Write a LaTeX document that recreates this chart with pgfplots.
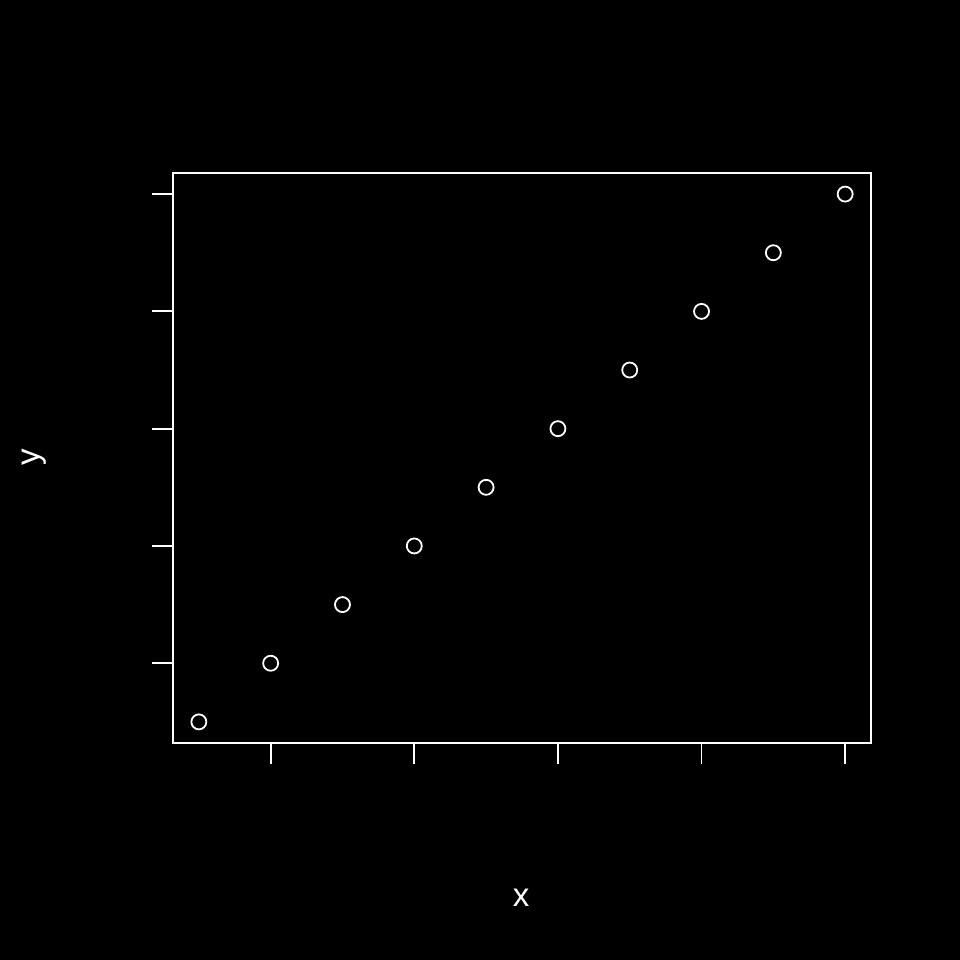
\documentclass[border=0pt]{standalone}
\usepackage{fontspec}
\setmainfont{Liberation Sans}
\usepackage{pgfplots}
\pgfplotsset{compat=1.18}
\begin{document}
\begin{tikzpicture}[x=1pt,y=1pt]
\fill[black] (0,0) rectangle (960,960);
\useasboundingbox (0,0) rectangle (960,960);
\begin{axis}[
  at={(173pt,217pt)}, anchor=south west,
  scale only axis, width=698pt, height=570pt,
  xmin=0.64, xmax=10.36, ymin=0.64, ymax=10.36,
  xtick={2,4,6,8,10}, ytick={2,4,6,8,10},
  xticklabels={}, yticklabels={},
  tick align=outside, xtick pos=bottom, ytick pos=left,
  major tick length=21pt,
  tick style={white, line width=1.8pt},
  axis line style={white, line width=1.8pt},
  clip=false,
]
\addplot[only marks, mark=o, mark size=7.5pt, white, line width=1.8pt]
  coordinates {(1,1)(2,2)(3,3)(4,4)(5,5)(6,6)(7,7)(8,8)(9,9)(10,10)};
\end{axis}
\node[white, font=\fontsize{33}{36}\selectfont, anchor=center] at (521,62) {x};
\node[white, font=\fontsize{33}{36}\selectfont, anchor=center, rotate=90] at (34,503) {y};
\end{tikzpicture}
\end{document}
